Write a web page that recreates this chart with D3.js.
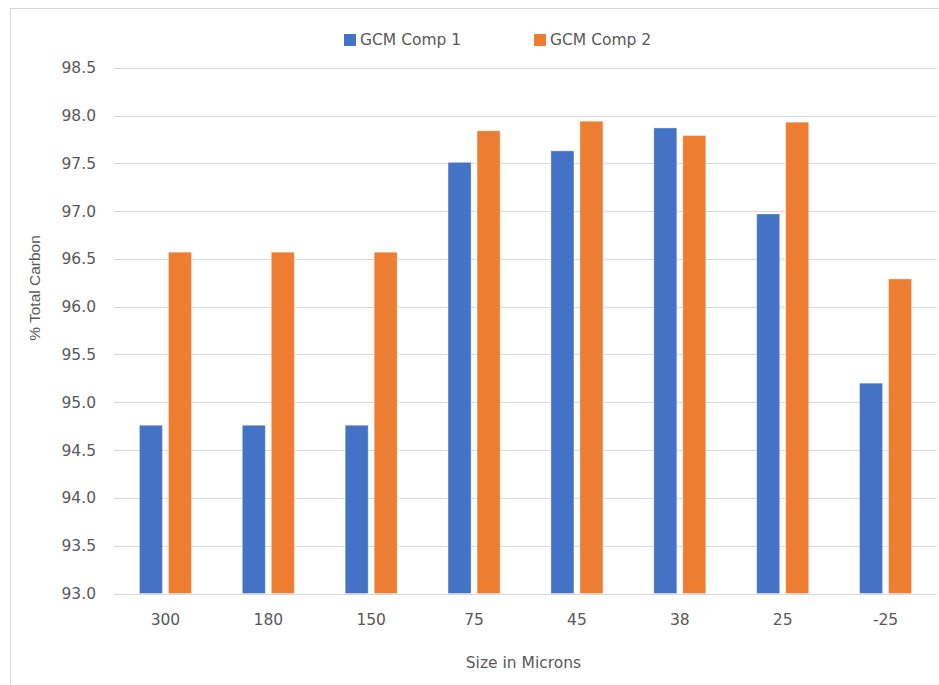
<!DOCTYPE html>
<html>
<head>
<meta charset="utf-8">
<script src="https://cdn.jsdelivr.net/npm/d3@7/dist/d3.min.js"></script>
<style>
  html, body { margin: 0; padding: 0; background: #fff; }
  svg { display: block; }
</style>
</head>
<body>
<script>
const categories = ["300", "180", "150", "75", "45", "38", "25", "-25"];
const seriesNames = ["GCM Comp 1", "GCM Comp 2"];
const comp1 = [94.76, 94.76, 94.76, 97.51, 97.63, 97.87, 96.97, 95.20];
const comp2 = [96.57, 96.57, 96.57, 97.84, 97.94, 97.79, 97.93, 96.29];
const yTicks = [93.0, 93.5, 94.0, 94.5, 95.0, 95.5, 96.0, 96.5, 97.0, 97.5, 98.0, 98.5];
const colors = ["#4472c4", "#ed7d31"];

(function () {
const W = 939, H = 685;
const svg = d3.select("body").append("svg").attr("width", W).attr("height", H);
const textColor = "#595959";
const font = "DejaVu Sans, Verdana, sans-serif";

// outer chart frame
svg.append("rect").attr("x", 10.5).attr("y", 8.5).attr("width", 940).attr("height", 700)
  .attr("fill", "none").attr("stroke", "#d9d9d9").attr("stroke-width", 1);

const plotLeft = 114, plotRight = 937, plotTop = 67.7, plotBottom = 593.5;
const x = d3.scaleBand().domain(categories).range([plotLeft, plotRight]);
const y = d3.scaleLinear().domain([93, 98.5]).range([plotBottom, plotTop]);

// gridlines
svg.append("g").selectAll("line").data(yTicks).join("line")
  .attr("x1", plotLeft).attr("x2", plotRight)
  .attr("y1", d => Math.round(y(d)) + 0.5).attr("y2", d => Math.round(y(d)) + 0.5)
  .attr("stroke", "#d9d9d9").attr("stroke-width", 1);

// y axis labels
const yAxis = d3.axisLeft(y).tickValues(yTicks).tickFormat(d3.format(".1f")).tickSize(0).tickPadding(0);
const yg = svg.append("g").attr("transform", `translate(${plotLeft - 18},0)`).call(yAxis);
yg.select(".domain").remove();
yg.selectAll("text").attr("fill", textColor).attr("font-family", font).attr("font-size", 15.5);

// bars
const barW = 23, gap = 6;
const series = [comp1, comp2];
series.forEach((vals, si) => {
  svg.append("g").selectAll("rect").data(vals).join("rect")
    .attr("x", (d, i) => x(categories[i]) + x.bandwidth() / 2 + (si === 0 ? -(gap / 2 + barW) : gap / 2))
    .attr("y", d => y(d))
    .attr("width", barW)
    .attr("height", d => y(93) - y(d))
    .attr("fill", colors[si])
    .attr("stroke", "rgba(255,255,255,0.35)").attr("stroke-width", 1);
});

// x axis labels
const xAxis = d3.axisBottom(x).tickSize(0).tickPadding(0);
const xg = svg.append("g").attr("transform", `translate(0,${plotBottom + 20})`).call(xAxis);
xg.select(".domain").remove();
xg.selectAll("text").attr("fill", textColor).attr("font-family", font).attr("font-size", 15.5)
  .attr("dy", "0.71em");

// axis titles
svg.append("text").attr("x", (plotLeft + plotRight) / 2 - 2).attr("y", 668)
  .attr("text-anchor", "middle").attr("fill", textColor)
  .attr("font-family", font).attr("font-size", 15.5).text("Size in Microns");

svg.append("text").attr("transform", "translate(40,288) rotate(-90)")
  .attr("text-anchor", "middle").attr("fill", textColor)
  .attr("font-family", "Liberation Sans, Arial, sans-serif").attr("font-size", 15.5).text("% Total Carbon");

// legend
const legendX = [344, 534];
const lg = svg.append("g");
seriesNames.forEach((name, i) => {
  lg.append("rect").attr("x", legendX[i]).attr("y", 34).attr("width", 12).attr("height", 12).attr("fill", colors[i]);
  lg.append("text").attr("x", legendX[i] + 16).attr("y", 40).attr("dy", "0.35em")
    .attr("fill", textColor).attr("font-family", font).attr("font-size", 15.5).text(name);
});
})();
</script>
</body>
</html>
